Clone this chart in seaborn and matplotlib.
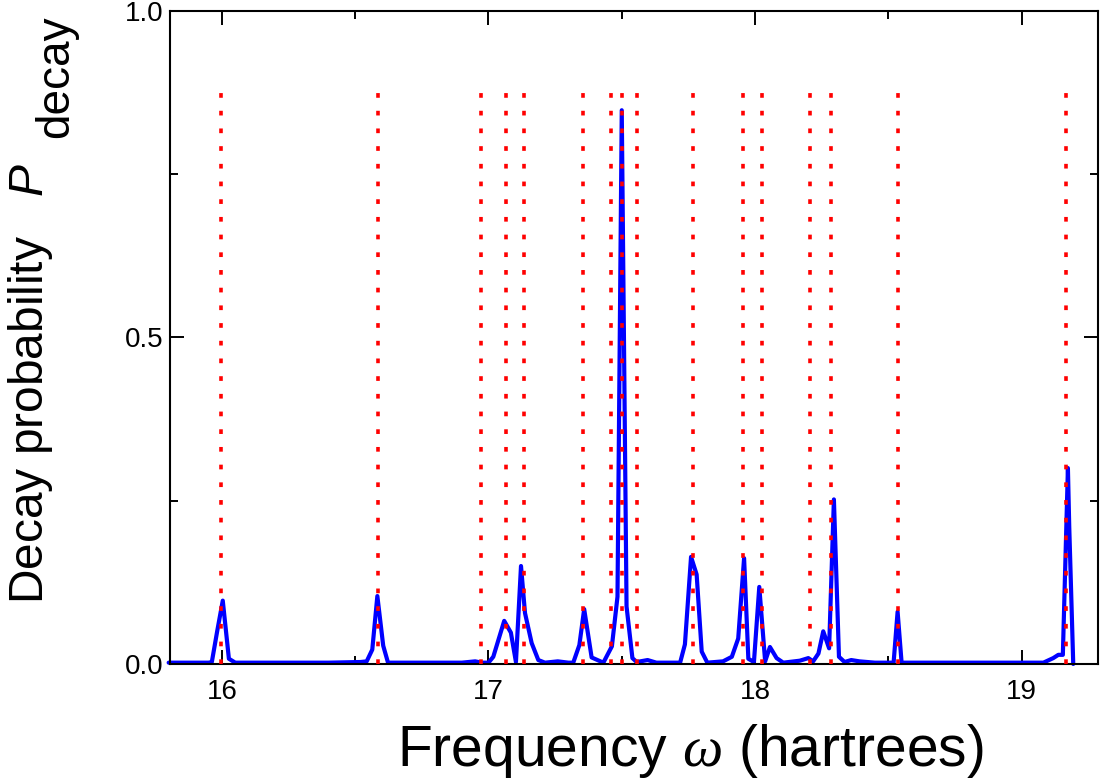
import matplotlib
matplotlib.use('Agg')
import matplotlib.pyplot as plt
import seaborn as sns
from matplotlib.ticker import MultipleLocator, FormatStrFormatter

# decay probability spectrum
omega = [15.80, 15.90, 15.95, 15.962, 15.982, 16.003, 16.026, 16.05, 16.20, 16.40,
         16.52, 16.543, 16.564, 16.583, 16.605, 16.623, 16.80, 16.90, 16.95, 16.975,
         17.00, 17.018, 17.059, 17.084, 17.103, 17.122, 17.137, 17.162, 17.187, 17.212,
         17.26, 17.30, 17.318, 17.341, 17.359, 17.387, 17.431, 17.463, 17.484, 17.500,
         17.518, 17.540, 17.556, 17.597, 17.63, 17.70, 17.719, 17.737, 17.760, 17.781,
         17.800, 17.821, 17.88, 17.913, 17.937, 17.959, 17.975, 17.996, 18.016, 18.038,
         18.056, 18.081, 18.106, 18.168, 18.200, 18.218, 18.238, 18.256, 18.278, 18.296,
         18.315, 18.336, 18.361, 18.392, 18.45, 18.52, 18.535, 18.550, 18.80, 19.00,
         19.082, 19.119, 19.138, 19.155, 19.174, 19.179, 19.194]
p_decay = [0.002, 0.002, 0.002, 0.003, 0.050, 0.097, 0.008, 0.002, 0.002, 0.002,
           0.003, 0.004, 0.022, 0.104, 0.028, 0.002, 0.002, 0.002, 0.004, 0.002,
           0.002, 0.011, 0.066, 0.048, 0.003, 0.150, 0.078, 0.032, 0.006, 0.002,
           0.004, 0.002, 0.002, 0.029, 0.084, 0.010, 0.002, 0.027, 0.103, 0.848,
           0.088, 0.009, 0.003, 0.006, 0.002, 0.002, 0.002, 0.030, 0.164, 0.137,
           0.019, 0.002, 0.004, 0.011, 0.039, 0.162, 0.008, 0.003, 0.118, 0.004,
           0.026, 0.009, 0.002, 0.005, 0.009, 0.004, 0.016, 0.050, 0.024, 0.252,
           0.011, 0.003, 0.006, 0.004, 0.002, 0.002, 0.080, 0.002, 0.002, 0.002,
           0.002, 0.009, 0.014, 0.014, 0.300, 0.210, 0.000]

# resonance frequencies (red dotted markers)
resonances = [15.996, 16.585, 16.972, 17.066, 17.134, 17.353, 17.461, 17.500,
              17.556, 17.766, 17.954, 18.027, 18.206, 18.285, 18.537, 19.167]

sns.set_theme(style='ticks')
plt.rcParams['font.family'] = ['Liberation Sans', 'DejaVu Sans']
plt.rcParams['mathtext.fontset'] = 'custom'
plt.rcParams['mathtext.rm'] = 'Liberation Sans'
plt.rcParams['mathtext.it'] = 'Liberation Serif:italic'
plt.rcParams['mathtext.sf'] = 'Liberation Sans:italic'

fig = plt.figure(figsize=(11.01, 7.84), dpi=100)
ax = fig.add_axes([0.1544, 0.1531, 0.8429, 0.8329])

ax.vlines(resonances, 0, 0.877, colors='red', linewidth=2.6,
          linestyles=[(0, (1.3, 3.6))], zorder=3)
sns.lineplot(x=omega, y=p_decay, color='blue', linewidth=3.0, ax=ax,
             estimator=None, zorder=2, clip_on=False)

ax.set_xlim(15.805, 19.287)
ax.set_ylim(0, 1.0)
ax.xaxis.set_major_locator(MultipleLocator(1))
ax.xaxis.set_minor_locator(MultipleLocator(0.5))
ax.yaxis.set_major_locator(MultipleLocator(0.5))
ax.yaxis.set_minor_locator(MultipleLocator(0.25))
ax.yaxis.set_major_formatter(FormatStrFormatter('%.1f'))

ax.tick_params(which='both', direction='in', top=True, right=True,
               width=1.4, color='black', labelsize=20, labelcolor='black')
ax.tick_params(which='major', length=10)
ax.tick_params(axis='y', which='major', pad=5)
ax.tick_params(axis='x', which='major', pad=11)
ax.tick_params(which='minor', length=6)

for side in ['left', 'right', 'top', 'bottom']:
    ax.spines[side].set_visible(True)
    ax.spines[side].set_color('black')
    ax.spines[side].set_linewidth(1.5)

ax.set_xlabel(r'Frequency $\omega$ (hartrees)', fontsize=41, color='black')
ax.xaxis.set_label_coords(0.561, -0.089)

ax.set_ylabel(r'Decay probability   $\mathsf{P}$', fontsize=34.5, color='black')
ax.yaxis.set_label_coords(-0.124, 0.429)
ax.yaxis.label.set_rotation_mode('anchor')
# subscript of P, drawn nearly full size as in the original
fig.text(78 / 1101, 646 / 784, 'decay', fontsize=33, rotation=90,
         rotation_mode='anchor', ha='left', va='bottom', color='black')

fig.savefig('out.png', dpi=100)
